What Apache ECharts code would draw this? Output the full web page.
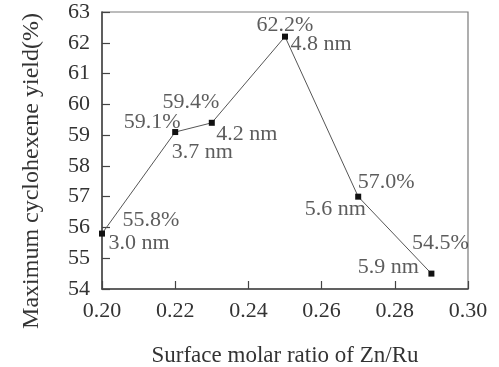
<!DOCTYPE html>
<html><head><meta charset="utf-8">
<script src="https://cdn.jsdelivr.net/npm/echarts@6/dist/echarts.min.js"></script>
<style>html,body{margin:0;padding:0;background:#fff}#c{width:499px;height:367px}</style>
</head><body><div id="c"></div>
<script>
var ratios = [0.20, 0.22, 0.23, 0.25, 0.27, 0.29];
var yields = [55.8, 59.1, 59.4, 62.2, 57.0, 54.5];
var yieldLabels = ['55.8%', '59.1%', '59.4%', '62.2%', '57.0%', '54.5%'];
var sizeLabels = ['3.0 nm', '3.7 nm', '4.2 nm', '4.8 nm', '5.6 nm', '5.9 nm'];
var yTitle = 'Maximum cyclohexene yield(%)';
var xTitle = 'Surface molar ratio of Zn/Ru';
var pctOffsets = [[49, -13], [-23, -10], [-21, -21], [0, -11], [28, -14], [9, -30]];
var sizeOffsets = [[37, 10], [27, 20], [35, 11], [36, 8], [-23, 13], [-43, -6]];

var FONT = '"Liberation Serif", "DejaVu Serif", serif';
var TXT = '#333';

function labelData(texts, offs) {
  return ratios.map(function (r, i) {
    return {
      value: [r, yields[i]],
      label: { show: true, formatter: texts[i], position: 'inside', offset: offs[i] }
    };
  });
}

var chart = echarts.init(document.getElementById('c'), null, {renderer: 'canvas'});
chart.setOption({
  animation: false,
  grid: { left: 102, right: 31, top: 12, bottom: 78, show: true, borderColor: '#7a7a7a', borderWidth: 1.2,
          containLabel: false, outerBoundsMode: 'none' },
  graphic: [{
    type: 'text', x: 32, y: 171, rotation: Math.PI / 2,
    style: { text: yTitle, font: '24px ' + FONT, fill: TXT, align: 'center', verticalAlign: 'middle' }
  }],
  xAxis: {
    type: 'value', min: 0.2, max: 0.3, interval: 0.02,
    name: xTitle, nameLocation: 'middle', nameGap: 55,
    nameTextStyle: { fontFamily: FONT, fontSize: 23, color: TXT },
    axisLine: { show: true, lineStyle: { color: '#444', width: 1.5 } },
    axisTick: { show: true, inside: true, length: 8, lineStyle: { color: '#444', width: 1.2 } },
    axisLabel: { fontFamily: FONT, fontSize: 22, color: TXT, margin: 11,
      formatter: function (v) { return v.toFixed(2); } },
    splitLine: { show: false }
  },
  yAxis: {
    type: 'value', min: 54, max: 63, interval: 1,
    axisLine: { show: true, lineStyle: { color: '#444', width: 1.5 } },
    axisTick: { show: true, inside: true, length: 8, lineStyle: { color: '#444', width: 1.2 } },
    axisLabel: { fontFamily: FONT, fontSize: 22, color: TXT, margin: 12 },
    splitLine: { show: false }
  },
  series: [
    {
      type: 'line',
      data: ratios.map(function (r, i) { return [r, yields[i]]; }),
      symbol: 'rect', symbolSize: 6,
      itemStyle: { color: '#111' },
      lineStyle: { color: '#555', width: 1 },
      z: 3
    },
    {
      type: 'scatter', symbolSize: 0, silent: true,
      data: labelData(yieldLabels, pctOffsets),
      label: { fontFamily: FONT, fontSize: 22, color: TXT }
    },
    {
      type: 'scatter', symbolSize: 0, silent: true,
      data: labelData(sizeLabels, sizeOffsets),
      label: { fontFamily: FONT, fontSize: 22, color: TXT }
    }
  ]
});
</script>
</body></html>
